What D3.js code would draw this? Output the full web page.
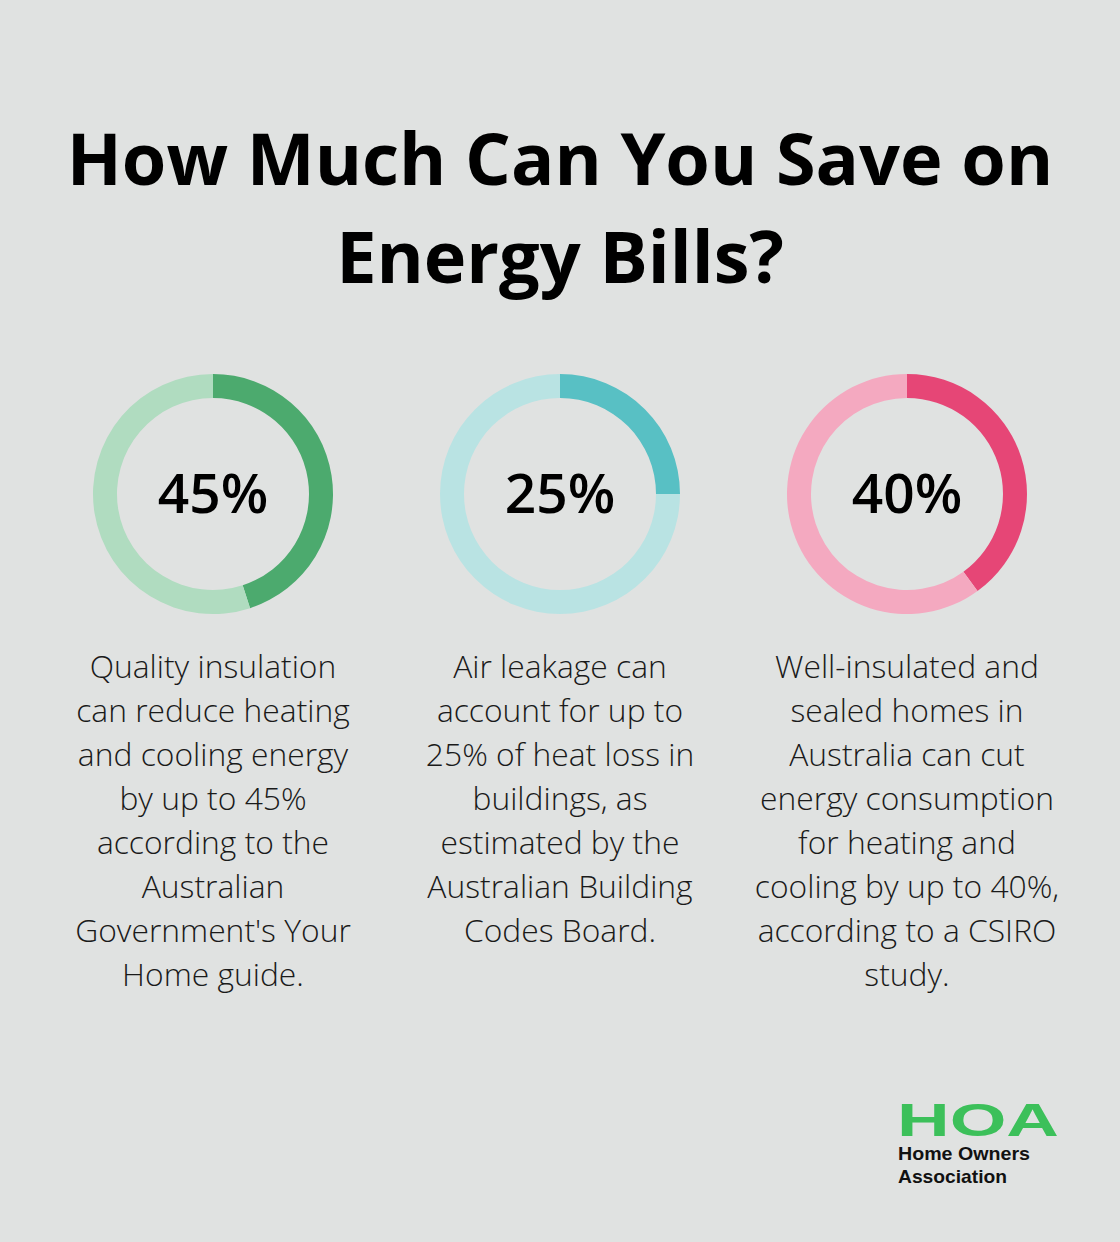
<!DOCTYPE html>
<html>
<head>
<meta charset="utf-8">
<script src="https://cdn.jsdelivr.net/npm/d3@7"></script>
<style>
  body { margin: 0; background: #e0e2e1; }
  svg { display: block; }
</style>
</head>
<body>
<svg id="chart" width="1120" height="1242"></svg>
<script>
var titleLines = ['How Much Can You Save on', 'Energy Bills?'];
var percents = [45, 25, 40];
var mainColors = ['#4caa6e', '#58c0c4', '#e64676'];
var lightColors = ['#b0dcc0', '#b9e3e3', '#f4a9c0'];
var captions = [
    ['Quality insulation', 'can reduce heating', 'and cooling energy', 'by up to 45%', 'according to the', 'Australian', "Government's Your", 'Home guide.'],
    ['Air leakage can', 'account for up to', '25% of heat loss in', 'buildings, as', 'estimated by the', 'Australian Building', 'Codes Board.'],
    ['Well-insulated and', 'sealed homes in', 'Australia can cut', 'energy consumption', 'for heating and', 'cooling by up to 40%,', 'according to a CSIRO', 'study.']
];

var svg = d3.select('#chart');
var font = "'Open Sans', sans-serif";

svg.selectAll('.title')
    .data(titleLines)
    .enter()
        .append('text').classed('title', true)
        .attr('x', 560)
        .attr('y', function (d, i) { return 185 + i * 98; })
        .attr('text-anchor', 'middle')
        .style('font-family', font)
        .style('font-weight', 'bold')
        .style('font-size', '72px')
        .style('fill', '#000')
        .text(function (d) { return d; });

var x = d3.scalePoint().domain(d3.range(percents.length)).range([213, 907]);
var cy = 494;
var arc = d3.arc().innerRadius(96).outerRadius(120);
var pie = d3.pie().sort(null);

percents.forEach(function (p, i) {
    var g = svg.append('g').attr('transform', 'translate(' + x(i) + ',' + cy + ')');
    var slices = pie([p, 100 - p]);
    g.selectAll('path')
        .data(slices)
        .enter()
            .append('path')
            .attr('d', arc)
            .style('fill', function (d, j) { return j === 0 ? mainColors[i] : lightColors[i]; });
    g.append('text')
        .attr('y', 19)
        .attr('text-anchor', 'middle')
        .style('font-family', font)
        .style('font-weight', 600)
        .style('font-size', '55px')
        .style('fill', '#000')
        .text(p + '%');
    svg.append('g').selectAll('text')
        .data(captions[i])
        .enter()
            .append('text')
            .attr('x', x(i))
            .attr('y', function (d, k) { return 678 + k * 44; })
            .attr('text-anchor', 'middle')
            .style('font-family', font)
            .style('font-weight', 300)
            .style('font-size', '31.8px')
            .style('fill', '#1a1a1a')
            .text(function (d) { return d; });
});

// logo
var logo = svg.append('g').attr('transform', 'translate(897,0)');
logo.append('text')
    .attr('x', 0).attr('y', 1136)
    .attr('textLength', 162)
    .attr('lengthAdjust', 'spacingAndGlyphs')
    .style('font-family', "'Liberation Sans', Arial, sans-serif")
    .style('font-weight', 'bold')
    .style('font-size', '46px')
    .style('fill', '#3cc05a')
    .text('HOA');
logo.selectAll('.sub')
    .data(['Home Owners', 'Association'])
    .enter()
        .append('text').classed('sub', true)
        .attr('x', 1)
        .attr('y', function (d, i) { return 1160 + i * 23; })
        .style('font-family', "'Liberation Sans', Arial, sans-serif")
        .style('font-weight', 'bold')
        .style('font-size', '19px')
        .attr('textLength', function (d, i) { return i === 0 ? 132 : 109; })
        .attr('lengthAdjust', 'spacingAndGlyphs')
        .style('fill', '#111')
        .text(function (d) { return d; });
</script>
</body>
</html>
